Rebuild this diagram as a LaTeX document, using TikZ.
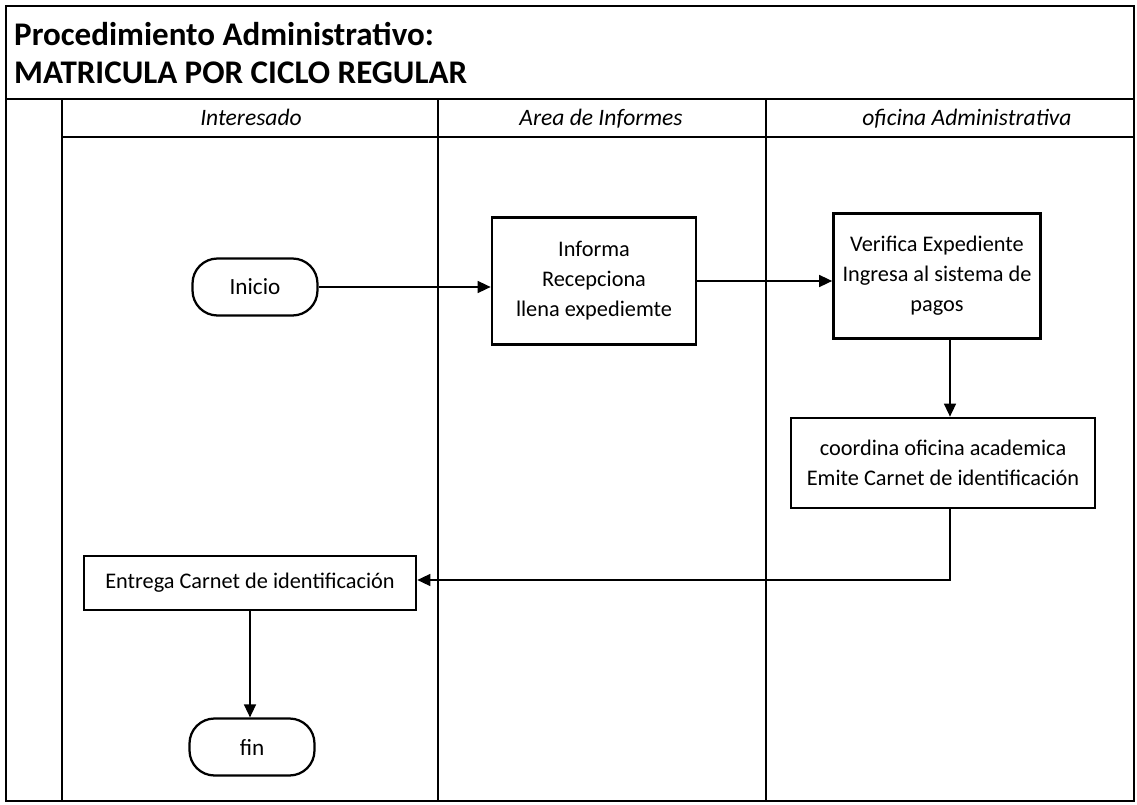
\documentclass[tikz,border=0pt]{standalone}
\usepackage{fontspec}
\setmainfont{Carlito}
\usetikzlibrary{positioning, arrows.meta}

\begin{document}
\begin{tikzpicture}
    [
        x=0.02cm, y=-0.02cm,
        frame_line/.style={line width=0.45mm},
        lane_line/.style={line width=0.35mm},
        title_text/.style={anchor=west, font=\fontsize{18.8}{22}\selectfont\bfseries},
        lane_head/.style={anchor=base, font=\fontsize{13.4}{16}\selectfont\itshape},
        step_node/.style={rectangle, draw=black, line width=0.55mm, align=center, inner sep=1mm, font=\fontsize{12.7}{17}\selectfont},
        term_node/.style={rectangle, rounded corners=5mm, draw=black, line width=0.45mm, minimum width=2.5cm, minimum height=1.14cm, font=\fontsize{13.2}{17}\selectfont},
        flow_arrow/.style={-{Triangle[length=2.6mm, width=2.4mm]}, line width=0.3mm},
    ]
        \useasboundingbox (0,0) rectangle (1137,805);
        % frame and lanes
        \draw[frame_line] (6,6) rectangle (1134,801);
        \draw[lane_line] (6,99) -- (1134,99);
        \draw[lane_line] (62,137) -- (1134,137);
        \draw[lane_line] (62,99) -- (62,801);
        \draw[lane_line] (438,99) -- (438,801);
        \draw[lane_line] (766,99) -- (766,801);
        \node[title_text] (title_a) at (8,34) {Procedimiento Administrativo:};
        \node[title_text] (title_b) at (8,73) {MATRICULA POR CICLO REGULAR};
        \node[lane_head] (head_interesado) at (251,125) {Interesado};
        \node[lane_head] (head_informes) at (601,125) {Area de Informes};
        \node[lane_head] (head_oficina) at (967,125) {oficina Administrativa};
        % steps
        \node[term_node] (inicio) at (255,287) {Inicio};
        \node[step_node, minimum width=4.08cm, minimum height=2.54cm] (informa) at (594,281) {Informa\\Recepciona\\llena expediemte};
        \node[step_node, minimum width=4.14cm, minimum height=2.5cm] (verifica) at (937,276) {Verifica Expediente\\Ingresa al sistema de\\pagos};
        \node[step_node, minimum width=6.08cm, minimum height=1.8cm] (coordina) at (943,463) {coordina oficina academica\\Emite Carnet de identificación};
        \node[step_node, minimum width=6.64cm, minimum height=1.08cm] (entrega) at (250,583) {Entrega Carnet de identificación};
        \node[term_node] (fin) at (252,747) {fin};
        \coordinate (drop) at (950,580);
        \draw[flow_arrow] (inicio.east) -- (inicio.east -| informa.west);
        \draw[flow_arrow] (informa.east) -- (informa.east -| verifica.west);
        \draw[flow_arrow] (verifica.south -| drop) -- (coordina.north -| drop);
        \draw[flow_arrow] (coordina.south -| drop) -- (drop) -- (entrega.east |- drop);
        \draw[flow_arrow] (entrega.south) -- (entrega.south |- fin.north);
    \end{tikzpicture}
\end{document}
